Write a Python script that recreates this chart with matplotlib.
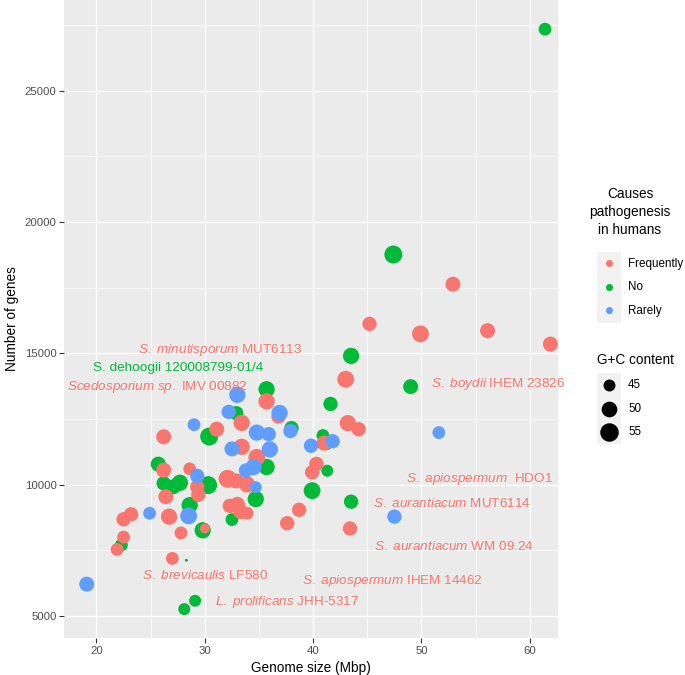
import numpy as np
import matplotlib.pyplot as plt
from matplotlib.patches import Rectangle

plt.rcParams['font.family'] = ['Liberation Sans', 'DejaVu Sans']
plt.rcParams['mathtext.fontset'] = 'custom'
plt.rcParams['mathtext.rm'] = 'Liberation Sans'
plt.rcParams['mathtext.it'] = 'Liberation Sans:italic'

# genome size (Mbp), number of genes, G+C content (%) per pathogenicity class
freq_size = [45.2, 49.9, 56.1, 61.9, 52.9, 43.0, 43.2, 44.2, 41.0, 40.3, 39.9,
             38.7, 37.6, 43.4, 35.7, 36.8, 33.4, 31.1, 26.2, 33.4, 34.8, 26.2,
             28.6, 32.1, 33.9, 29.3, 29.4, 26.4, 26.7, 23.2, 22.5, 22.5, 21.9,
             27.8, 30.0, 27.0, 32.3, 33.0, 33.3, 33.9, 32.9]
freq_genes = [16120, 15740, 15860, 15350, 17630, 14010, 12340, 12110, 11580,
              10790, 10470, 9040, 8530, 8330, 13170, 12590, 12350, 12110, 11820,
              11440, 11040, 10550, 10600, 10220, 10010, 9910, 9610, 9540, 8780,
              8870, 8680, 8000, 7530, 8160, 8330, 7190, 9190, 9250, 8970, 8910,
              10140]
freq_gc = [48, 52, 49, 49, 49, 52, 51, 48, 49, 48, 48,
           48, 48, 48, 51, 48, 51, 49, 49, 51, 52, 49,
           46, 54, 51, 48, 48, 49, 51, 48, 48, 46, 46,
           46, 43, 46, 48, 49, 49, 46, 49]

no_size = [61.4, 47.4, 43.5, 49.0, 41.6, 35.7, 32.9, 38.0, 30.4, 40.9, 41.2,
           35.7, 41.3, 25.7, 26.2, 27.7, 27.1, 30.3, 39.9, 34.7, 28.6, 32.5,
           43.5, 22.3, 29.8, 28.3, 29.1, 28.1]
no_genes = [27340, 18760, 14900, 13730, 13070, 13630, 12720, 12150, 11830,
            11870, 11550, 10670, 10530, 10780, 10050, 10070, 9920, 9980, 9770,
            9450, 9220, 8670, 9350, 7700, 8260, 7120, 5580, 5260]
no_gc = [46, 54, 51, 49, 48, 51, 48, 48, 54, 46, 46,
         51, 45, 49, 48, 51, 49, 54, 52, 51, 51, 46,
         48, 46, 51, 40, 45, 45]

rare_size = [19.1, 24.9, 28.5, 29.3, 29.0, 33.0, 32.2, 36.9, 37.9, 34.8, 35.9,
             32.5, 36.0, 34.5, 33.8, 34.7, 39.8, 41.8, 51.6, 47.5]
rare_genes = [6210, 8910, 8810, 10330, 12280, 13420, 12770, 12730, 12040,
              11980, 11920, 11360, 11340, 10670, 10540, 9900, 11480, 11650,
              11980, 8780]
rare_gc = [49, 46, 52, 48, 46, 51, 48, 51, 48, 51, 48,
           49, 51, 51, 48, 45, 48, 48, 46, 48]

# strain annotations
lab_species = ['S. minutisporum', '', 'Scedosporium sp.', 'S. boydii',
               'S. apiospermum', 'S. aurantiacum', 'S. aurantiacum',
               'S. apiospermum', 'S. brevicaulis', 'L. prolificans']
lab_strain = ['MUT6113', 'S. dehoogii 120008799-01/4', 'IMV 00882', 'IHEM 23826',
              ' HDO1', 'MUT6114', 'WM 09.24', 'IHEM 14462', 'LF580', 'JHH-5317']
lab_x = [23.8, 19.7, 17.3, 50.9, 48.6, 45.5, 45.6, 39.0, 24.2, 30.9]
lab_y = [15130, 14450, 13710, 13830, 10210, 9290, 7640, 6330, 6540, 5530]
lab_group = ['Frequently', 'No', 'Frequently', 'Frequently', 'Frequently',
             'Frequently', 'Frequently', 'Frequently', 'Frequently', 'Frequently']

groups = ['Frequently', 'No', 'Rarely']
colors = {'Frequently': '#F8766D', 'No': '#00BA38', 'Rarely': '#619CFF'}
gc_breaks = [45, 50, 55]


def gc_area(gc):
    d = 3 + 16 * np.sqrt((np.asarray(gc, dtype=float) - 40) / 16)
    return (d * 0.72) ** 2


fig = plt.figure(figsize=(6.85, 6.75), dpi=100)
ax = fig.add_axes([64 / 685, 1 - 638 / 675, (558 - 64) / 685, 638 / 675])
ax.set_facecolor('#EBEBEB')
for s in ax.spines.values():
    s.set_visible(False)

ax.scatter(no_size, no_genes, s=gc_area(no_gc), c=colors['No'], linewidths=0, zorder=3)
ax.scatter(freq_size, freq_genes, s=gc_area(freq_gc), c=colors['Frequently'], linewidths=0, zorder=3)
ax.scatter(rare_size, rare_genes, s=gc_area(rare_gc), c=colors['Rarely'], linewidths=0, zorder=3)

for sp, st, x, y, g in zip(lab_species, lab_strain, lab_x, lab_y, lab_group):
    if sp:
        txt = r'$\mathit{' + sp.replace(' ', r'\ ') + '}$ ' + st
    else:
        txt = st
    ax.text(x, y, txt, color=colors[g], fontsize=9.7, ha='left', va='center', zorder=4)

ax.set_xlim(17.0, 62.6)
ax.set_ylim(4160, 28450)
ax.set_xticks([20, 30, 40, 50, 60])
ax.set_xticks([25, 35, 45, 55], minor=True)
ax.set_yticks([5000, 10000, 15000, 20000, 25000])
ax.set_yticks([7500, 12500, 17500, 22500, 27500], minor=True)
ax.grid(which='major', color='white', linewidth=1.0, zorder=0)
ax.grid(which='minor', color='white', linewidth=0.5, zorder=0)
ax.set_axisbelow(True)
ax.tick_params(which='major', length=3.4, width=0.8, color='#333333',
               labelcolor='#4D4D4D', labelsize=8.2, pad=2)
ax.tick_params(which='minor', length=0)
ax.set_xlabel('Genome size (Mbp)', fontsize=9.8, labelpad=4)
ax.set_ylabel('Number of genes', fontsize=9.8, labelpad=4)

# legends
lax = fig.add_axes([0, 0, 1, 1], facecolor='none')
lax.set_xlim(0, 685)
lax.set_ylim(675, 0)
lax.axis('off')

lax.text(630, 212, 'Causes\npathogenesis\nin humans', fontsize=9.8,
         ha='center', va='center', linespacing=1.35)
for i, g in enumerate(groups):
    yc = 264 + i * 23.5
    lax.add_patch(Rectangle((597, yc - 11.75), 24, 23.5, facecolor='#F2F2F2',
                            edgecolor='none'))
    lax.scatter([609], [yc - 1], s=(7 * 0.72) ** 2, c=colors[g], linewidths=0)
    lax.text(609, yc + 1, 'a', fontsize=6, color=colors[g], ha='center', va='center')
    lax.text(628, yc, g, fontsize=8.4, ha='left', va='center')

lax.text(597, 360, 'G+C content', fontsize=9.8, ha='left', va='center')
for i, b in enumerate(gc_breaks):
    yc = 385 + i * 23.5
    lax.add_patch(Rectangle((597, yc - 11.75), 24, 23.5, facecolor='#F2F2F2',
                            edgecolor='none'))
    lax.scatter([609], [yc], s=gc_area([b]), c='black', linewidths=0)
    lax.text(628, yc, str(b), fontsize=8.4, ha='left', va='center')

fig.savefig('out.png', dpi=100)
